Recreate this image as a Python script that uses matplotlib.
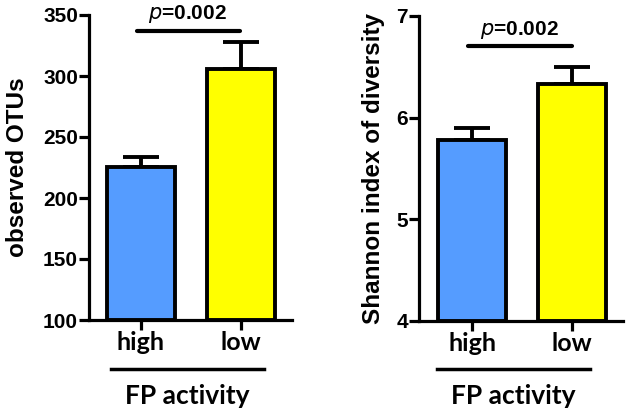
import matplotlib
matplotlib.use("Agg")
import matplotlib.pyplot as plt
import matplotlib.transforms as mtransforms

categories = ["high", "low"]
otus_mean = [225.5, 306.0]
otus_err = [8.0, 22.0]
shannon_mean = [5.78, 6.33]
shannon_err = [0.12, 0.17]
p_text = "=0.002"
xgroup_label = "FP activity"
colors = ["#559CFF", "#FFFF00"]

fig = plt.figure(figsize=(6.31, 4.17), dpi=100)
ax1 = fig.add_axes([89/631, 1-320/417, 203/631, 305/417])
ax2 = fig.add_axes([419/631, 1-320.7/417, 204/631, 304.7/417])

tick_font = dict(family="Liberation Sans", weight="bold", size=15)
cat_font = dict(family="Lato", weight="bold", size=18)
grp_font = dict(family="Lato", weight="bold", size=19)

def style(ax, ylim, yticks, ylabel, xlim):
    x = [0, 1]
    ax.set_xlim(*xlim)
    ax.set_ylim(*ylim)
    for s in ["top", "right"]:
        ax.spines[s].set_visible(False)
    for s in ["left", "bottom"]:
        ax.spines[s].set_linewidth(2.3)
    ax.set_yticks(yticks)
    ax.set_yticklabels([str(t) for t in yticks], fontdict=tick_font)
    ax.set_xticks(x)
    ax.set_xticklabels(categories, fontdict=cat_font)
    ax.tick_params(axis="both", width=2.3, length=7, direction="out")
    ax.tick_params(axis="x", pad=1)
    ax.tick_params(axis="y", pad=1)
    ax.set_ylabel(ylabel, family="Liberation Sans", weight="bold", size=17.5)

def draw(ax, means, errs, ylim):
    x = [0, 1]
    ax.bar(x, [m - ylim[0] for m in means], bottom=ylim[0], width=0.68,
           color=colors, edgecolor="black", linewidth=2.8, zorder=3)
    ax.errorbar(x, means, yerr=[[0, 0], errs], fmt="none", ecolor="black",
                elinewidth=2.8, capsize=13, capthick=2.8, zorder=2)

# Left
style(ax1, (100, 350), [100, 150, 200, 250, 300, 350], "observed OTUs", (-0.52, 1.51))
draw(ax1, otus_mean, otus_err, (100, 350))
ax1.plot([-0.04, 0.99], [337, 337], color="black", lw=3, solid_capstyle="round", clip_on=False)
ax1.text(0.46, 350.5, r"$\bf{\it{p}}$" + p_text, ha="center", va="center",
         family="Liberation Sans", weight="bold", size=15)
ax1.yaxis.set_label_coords(-0.295, 0.5)

# Right
style(ax2, (4, 7), [4, 5, 6, 7], "Shannon index of diversity", (-0.53, 1.51))
draw(ax2, shannon_mean, shannon_err, (4, 7))
ax2.plot([-0.04, 1.0], [6.70, 6.70], color="black", lw=3, solid_capstyle="round", clip_on=False)
ax2.text(0.47, 6.86, r"$\bf{\it{p}}$" + p_text, ha="center", va="center",
         family="Liberation Sans", weight="bold", size=15)
ax2.yaxis.set_label_coords(-0.165, 0.5)

for ax, (x0, x1), xc in [(ax1, (-0.30, 1.23), 0.465), (ax2, (-0.35, 1.18), 0.41)]:
    tr = mtransforms.blended_transform_factory(ax.transData, ax.transAxes)
    ax.plot([x0, x1], [-0.16, -0.16], color="black", lw=2.5, transform=tr, clip_on=False)
    ax.text(xc, -0.248, xgroup_label, transform=tr, ha="center", va="center", **grp_font)

fig.savefig("out.png", dpi=100)
